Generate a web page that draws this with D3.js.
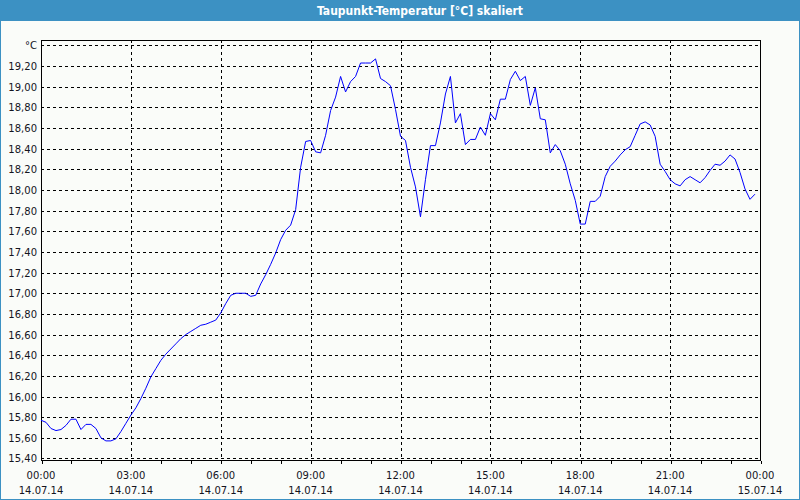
<!DOCTYPE html>
<html>
<head>
<meta charset="utf-8">
<script src="https://cdn.jsdelivr.net/npm/d3@7"></script>
<style>
  html, body { margin: 0; padding: 0; background: #fafcf9; }
  svg { display: block; }
</style>
</head>
<body>
<svg id="chart" width="800" height="500"></svg>
<script>
// ---- data ----
const chartTitle = "Taupunkt-Temperatur [°C] skaliert";
const startDate = "2014-07-14T00:00";
const stepMinutes = 10;
// dew point values, one every 10 minutes from 00:00
const dewPoint = [
  15.77, 15.75, 15.69, 15.67, 15.68, 15.72, 15.78, 15.78, 15.68, 15.73,
  15.73, 15.69, 15.60, 15.57, 15.57, 15.59, 15.66, 15.74, 15.82, 15.89,
  15.98, 16.08, 16.19, 16.27, 16.35, 16.41, 16.46, 16.51, 16.56, 16.60,
  16.63, 16.66, 16.69, 16.70, 16.72, 16.74, 16.81, 16.90, 16.98, 17.00,
  17.00, 17.00, 16.97, 16.98, 17.09, 17.18, 17.28, 17.39, 17.52, 17.61,
  17.66, 17.81, 18.22, 18.47, 18.48, 18.37, 18.36, 18.53, 18.77, 18.90,
  19.10, 18.95, 19.05, 19.10, 19.23, 19.23, 19.23, 19.27, 19.08, 19.05,
  19.01, 18.78, 18.52, 18.48, 18.22, 18.03, 17.74, 18.10, 18.43, 18.43,
  18.65, 18.93, 19.10, 18.65, 18.74, 18.44, 18.49, 18.49, 18.61, 18.53,
  18.74, 18.68, 18.88, 18.88, 19.07, 19.15, 19.06, 19.10, 18.82, 18.99,
  18.69, 18.68, 18.36, 18.44, 18.38, 18.25, 18.06, 17.90, 17.67, 17.67,
  17.89, 17.89, 17.94, 18.13, 18.23, 18.28, 18.34, 18.39, 18.42, 18.53,
  18.64, 18.66, 18.63, 18.52, 18.25, 18.18, 18.10, 18.06, 18.04, 18.10,
  18.13, 18.10, 18.07, 18.12, 18.19, 18.25, 18.24, 18.28, 18.34, 18.30,
  18.17, 18.01, 17.91, 17.96
];
const yTicks = [15.4, 15.6, 15.8, 16.0, 16.2, 16.4, 16.6, 16.8, 17.0, 17.2, 17.4,
                17.6, 17.8, 18.0, 18.2, 18.4, 18.6, 18.8, 19.0, 19.2, 19.4];
const yUnitLabel = "°C";
const xTickTimes = ["00:00", "03:00", "06:00", "09:00", "12:00", "15:00", "18:00", "21:00", "00:00"];
const xTickDates = ["14.07.14", "14.07.14", "14.07.14", "14.07.14", "14.07.14", "14.07.14", "14.07.14", "14.07.14", "15.07.14"];

// ---- layout ----
const W = 800, H = 500;
const plot = { left: 41, right: 760, top: 40, bottom: 460 };
const font = "'DejaVu Sans', Verdana, sans-serif";
const textColor = "#14141e";

const t0 = new Date(startDate);
const t1 = d3.timeHour.offset(t0, 24);
const data = dewPoint.map((v, i) => ({ t: d3.timeMinute.offset(t0, i * stepMinutes), v }));

const x = d3.scaleTime().domain([t0, t1]).range([plot.left, plot.right]);
const y = d3.scaleLinear().domain([15.385, 19.453]).range([plot.bottom, plot.top]);

const svg = d3.select("#chart");

// background
svg.append("rect").attr("width", W).attr("height", H).attr("fill", "#fafcf9");

// title bar
svg.append("rect").attr("x", 0).attr("y", 0).attr("width", W).attr("height", 21).attr("fill", "#3c91c3");
svg.append("text")
  .attr("x", 420).attr("y", 15)
  .attr("text-anchor", "middle")
  .attr("font-family", "'DejaVu Sans Condensed', 'DejaVu Sans', sans-serif")
  .attr("font-weight", "bold")
  .attr("font-size", "12px")
  .attr("fill", "#ffffff")
  .text(chartTitle);

// outer blue frame
svg.append("rect").attr("x", 0.5).attr("y", 0.5).attr("width", W - 1).attr("height", H - 1)
  .attr("fill", "none").attr("stroke", "#3c91c3").attr("stroke-width", 1);

// horizontal grid
const gridY = svg.append("g").attr("shape-rendering", "crispEdges");
gridY.selectAll("line").data(yTicks).join("line")
  .attr("x1", plot.left).attr("x2", plot.right)
  .attr("y1", d => Math.round(y(d)) + 0.5).attr("y2", d => Math.round(y(d)) + 0.5)
  .attr("stroke", "#000").attr("stroke-width", 1).attr("stroke-dasharray", "3,3");

// vertical grid every 3 hours
const gridTimes = d3.timeHour.every(3).range(d3.timeHour.offset(t0, 3), t1);
const gridX = svg.append("g").attr("shape-rendering", "crispEdges");
gridX.selectAll("line").data(gridTimes).join("line")
  .attr("x1", d => Math.round(x(d)) + 0.5).attr("x2", d => Math.round(x(d)) + 0.5)
  .attr("y1", plot.top).attr("y2", plot.bottom)
  .attr("stroke", "#000").attr("stroke-width", 1).attr("stroke-dasharray", "3,3");

// plot frame
svg.append("rect")
  .attr("x", plot.left + 0.5).attr("y", plot.top + 0.5)
  .attr("width", plot.right - plot.left).attr("height", plot.bottom - plot.top)
  .attr("fill", "none").attr("stroke", "#000").attr("shape-rendering", "crispEdges");

// bottom axis: hourly ticks, labels every 3h
const xAxis = d3.axisBottom(x)
  .ticks(d3.timeHour.every(1))
  .tickSize(3)
  .tickFormat("");
const gx = svg.append("g")
  .attr("transform", `translate(0.5,${plot.bottom + 0.5})`)
  .attr("shape-rendering", "crispEdges")
  .call(xAxis);
gx.select(".domain").remove();
gx.selectAll(".tick line").attr("stroke", "#000");

const labelTimes = d3.timeHour.every(3).range(t0, d3.timeHour.offset(t1, 1));
const xl = svg.append("g");
xl.selectAll("text.time").data(labelTimes).join("text")
  .attr("class", "time")
  .attr("x", d => x(d)).attr("y", 479)
  .attr("text-anchor", "middle")
  .attr("font-family", font).attr("font-size", "10px").attr("fill", textColor)
  .text((d, i) => xTickTimes[i]);
xl.selectAll("text.date").data(labelTimes).join("text")
  .attr("class", "date")
  .attr("x", d => x(d)).attr("y", 494)
  .attr("text-anchor", "middle")
  .attr("font-family", font).attr("font-size", "10px").attr("fill", textColor)
  .text((d, i) => xTickDates[i]);

// left axis labels
const fmt = d => d3.format(".2f")(d).replace(".", ",");
const yl = svg.append("g");
yl.selectAll("text").data(yTicks).join("text")
  .attr("x", 37).attr("y", d => y(d) + 4)
  .attr("text-anchor", "end")
  .attr("font-family", font).attr("font-size", "10px").attr("fill", textColor)
  .text((d, i) => i === yTicks.length - 1 ? yUnitLabel : fmt(d));

// line
const line = d3.line().x(d => x(d.t)).y(d => y(d.v));
svg.append("path")
  .datum(data)
  .attr("d", line)
  .attr("fill", "none")
  .attr("stroke", "#0000ff")
  .attr("stroke-width", 1);
</script>
</body>
</html>
